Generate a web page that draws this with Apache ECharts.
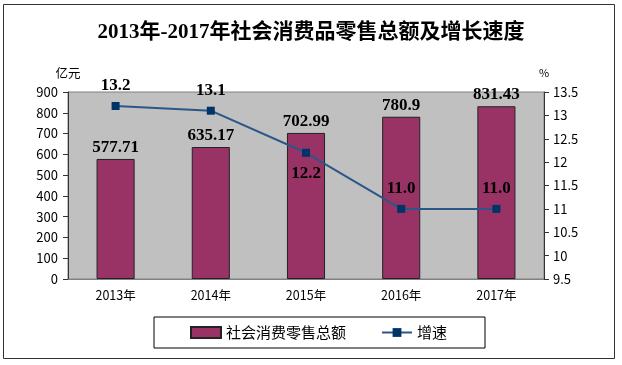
<!DOCTYPE html>
<html><head><meta charset="utf-8">
<script src="https://cdn.jsdelivr.net/npm/echarts@6/dist/echarts.min.js"></script>
<style>html,body{margin:0;padding:0;background:#fff}#c{width:622px;height:365px}</style>
</head><body><div id="c"></div>
<script>
var categories = ['2013年','2014年','2015年','2016年','2017年'];
var retailTotal = [577.71, 635.17, 702.99, 780.9, 831.43];
var growthRate = [13.2, 13.1, 12.2, 11.0, 11.0];
var growthLabelPos = ['top','top','bottom','top','top'];
var leftTicks = {min:0, max:900, interval:100};
var rightTicks = {min:9.5, max:13.5, interval:0.5};

var chart = echarts.init(document.getElementById('c'), null, {renderer:'canvas'});
var cjk = '"Noto Sans CJK SC", sans-serif';
var serif = '"Liberation Serif", "Noto Sans CJK SC", serif';
chart.setOption({
  backgroundColor:'#fff',
  animation:false,
  title:{
    text:'2013年-2017年社会消费品零售总额及增长速度',
    left:'center', top:17,
    textStyle:{fontFamily:serif, fontSize:21, fontWeight:'bold', color:'#000'}
  },
  graphic:[{type:'rect', shape:{x:3.5,y:4.5,width:611,height:354}, style:{fill:'none', stroke:'#333', lineWidth:1}, z:-1}],
  legend:{
    left:154, top:317, padding:[8,38,8,36],
    borderColor:'#000', borderWidth:1,
    itemWidth:30, itemHeight:11, itemGap:35,
    textStyle:{fontFamily:cjk, fontSize:15, color:'#000'},
    data:[{name:'社会消费零售总额', icon:'rect'}, {name:'增速'}]
  },
  grid:{left:68, right:78, top:92, bottom:86, show:true, backgroundColor:'#C0C0C0', borderColor:'#808080', borderWidth:1},
  xAxis:{
    type:'category', data:categories,
    axisLine:{lineStyle:{color:'#808080'}}, axisTick:{show:false},
    axisLabel:{fontFamily:cjk, fontSize:12.5, color:'#000', margin:10}
  },
  yAxis:[{
    type:'value', min:leftTicks.min, max:leftTicks.max, interval:leftTicks.interval,
    name:'亿元', nameLocation:'end', nameGap:12, nameTextStyle:{fontFamily:cjk, fontSize:12.5, color:'#000', align:'center'},
    splitLine:{show:false},
    axisLine:{show:true, lineStyle:{color:'#333'}},
    axisTick:{show:true, length:5, lineStyle:{color:'#333'}},
    axisLabel:{fontFamily:cjk, fontSize:13, color:'#000', margin:10}
  },{
    type:'value', min:rightTicks.min, max:rightTicks.max, interval:rightTicks.interval,
    name:'%', nameLocation:'end', nameGap:14, nameTextStyle:{fontFamily:cjk, fontSize:11, color:'#000', align:'center'},
    splitLine:{show:false},
    axisLine:{show:true, lineStyle:{color:'#333'}},
    axisTick:{show:true, length:5, lineStyle:{color:'#333'}},
    axisLabel:{fontFamily:cjk, fontSize:13, color:'#000', margin:9}
  }],
  series:[{
    name:'社会消费零售总额', type:'bar', data:retailTotal, barWidth:'40%',
    itemStyle:{color:'#993366', borderColor:'#222', borderWidth:1},
    label:{show:true, position:'top', distance:3, fontFamily:serif, fontSize:17, fontWeight:'bold', color:'#000'}
  },{
    name:'增速', type:'line', yAxisIndex:1,
    data:growthRate.map(function(v,i){return {value:v, label:{position:growthLabelPos[i]}};}),
    symbol:'rect', symbolSize:8,
    lineStyle:{color:'#2A5785', width:2},
    itemStyle:{color:'#003366'},
    label:{show:true, distance:8, fontFamily:serif, fontSize:17, fontWeight:'bold', color:'#000',
      formatter:function(p){return p.value.toFixed(1);}}
  }]
});
</script></body></html>
